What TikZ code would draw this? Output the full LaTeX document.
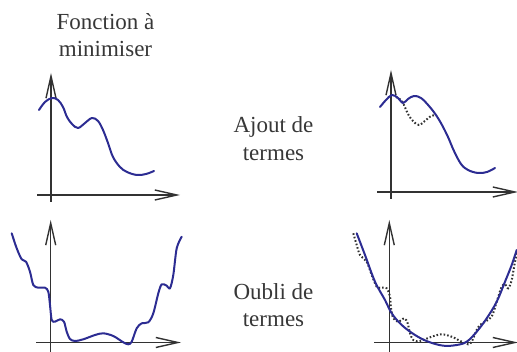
\documentclass[tikz,border=0pt]{standalone}
\usepackage{fontspec}
\setmainfont{Liberation Serif}
\newfontfamily\lblfont{Liberation Serif}
\usetikzlibrary{arrows.meta}
\definecolor{curveblue}{RGB}{44,44,146}
\definecolor{axisgray}{RGB}{50,50,50}
\definecolor{textgray}{RGB}{55,55,55}
\begin{document}
\begin{tikzpicture}[x=1pt,y=-1pt,
  axis/.style={draw=axisgray,line width=1.4pt,-{Straight Barb[length=22pt,width=10pt,line width=1.4pt]}},
  curve/.style={draw=curveblue,line width=2pt,line cap=round,line join=round},
  dotcurve/.style={draw=axisgray,line width=2pt,dash pattern=on 1.6pt off 2pt},
  lbl/.style={text=textgray,font=\lblfont\fontsize{23}{27}\selectfont,inner sep=0pt,anchor=base}]
\useasboundingbox (0,0) rectangle (517,352);
% labels
\node[lbl] (fa) at (105.5,30) {Fonction à};
\node[lbl] (fb) at (105.5,57) {minimiser};
\node[lbl] (aa) at (273.5,133) {Ajout de};
\node[lbl] (ab) at (273.5,161) {termes};
\node[lbl] (oa) at (273.5,300) {Oubli de};
\node[lbl] (ob) at (273.5,327) {termes};
% axes coordinates
\coordinate (tly0) at (51,202); \coordinate (tly1) at (51,73);
\coordinate (tlx0) at (37,195); \coordinate (tlx1) at (180,195);
\coordinate (try0) at (391,199); \coordinate (try1) at (391,70);
\coordinate (trx0) at (377,192); \coordinate (trx1) at (518,192);
\coordinate (bly0) at (50.7,352); \coordinate (bly1) at (50.7,220);
\coordinate (blx0) at (36,342.5); \coordinate (blx1) at (181,342.5);
\coordinate (bry0) at (389.3,352); \coordinate (bry1) at (389.3,220);
\coordinate (brx0) at (374,342.5); \coordinate (brx1) at (518,342.5);
\draw[axis] (tly0) -- (tly1);
\draw[axis] (tlx0) -- (tlx1);
\draw[axis] (try0) -- (try1);
\draw[axis] (trx0) -- (trx1);
\draw[axis] (bly0) -- (bly1);
\draw[axis] (blx0) -- (blx1);
\draw[axis] (bry0) -- (bry1);
\draw[axis] (brx0) -- (brx1);
% top-left curve
\draw[curve] plot[smooth,tension=0.6] coordinates {(39,110) (45,102) (52,98) (58,100) (63,107) (67,117) (72,124) (78,128) (85,123) (92,118) (98,121) (103,130) (108,143) (113,157) (120,167) (127,172) (137,175) (146,174) (154,171)};
% top-right curves
\draw[dotcurve] plot[smooth,tension=0.6] coordinates {(396,97) (401,100) (404,105) (408,114) (413,121) (419,125) (426,120) (431,116) (436,115)};
\draw[curve] plot[smooth,tension=0.6] coordinates {(380,107) (386,100) (392,95) (398,98) (403,103) (408,99) (414,96) (421,98) (429,106) (436,115) (442,125) (448,137) (454,151) (461,164) (468,170) (478,173) (487,172) (495,168)};
% bottom-left curve
\draw[curve] plot[smooth,tension=0.5] coordinates {(11.7,233.3) (16.7,248.3) (21.7,259.3) (26,261.7) (30,271.7) (33.3,285) (38.3,287.7) (45,287.7) (48.3,291.7) (50,305) (51.7,320) (55,321.7) (60,319.3) (64,321.7) (66.7,331.7) (70,339) (75,341) (83.3,339.3) (95,335) (103.3,333.3) (113.3,336) (123.3,342.3) (128.3,344.3) (131.7,341.7) (136.7,328.3) (141.7,323.3) (148.3,322.3) (153.3,313.3) (158.3,293.3) (161.7,284.3) (166.7,285.7) (170,288.3) (173.3,275) (176.7,248.3) (181.7,236.7)};
% bottom-right curves
\draw[dotcurve] plot[smooth,tension=0.5] coordinates {(353.3,233.3) (356.7,245) (360,255) (366.7,261.7) (371.7,275) (376.7,286.7) (381.7,287.7) (386.7,288.3) (390,296.7) (391,308.3) (393.3,318.3) (398.3,321.7) (404.3,318.3) (407.7,323.3) (410,333.3) (413.3,340) (420,341) (431.7,336.7) (441.7,334.3) (451.7,336.7) (461.7,341.7) (468.3,344.3) (471.7,341.7) (476.7,330) (480,325) (485,321.7) (491.7,316.7) (496.7,301.7) (501.7,286.7) (505,284.3) (508.3,288.3) (511.7,280) (515,261.7) (517.3,253)};
\draw[curve] plot[smooth,tension=0.6] coordinates {(356.7,233.3) (365,255) (375,281.7) (385,300) (391.7,313.3) (401.7,325) (415,335) (428.3,341.7) (443.3,345.7) (456.7,345) (466.7,341.7) (476.7,331.7) (486.7,318.3) (496.7,301.7) (505,281.7) (511.7,265) (516.7,250)};
\end{tikzpicture}
\end{document}
